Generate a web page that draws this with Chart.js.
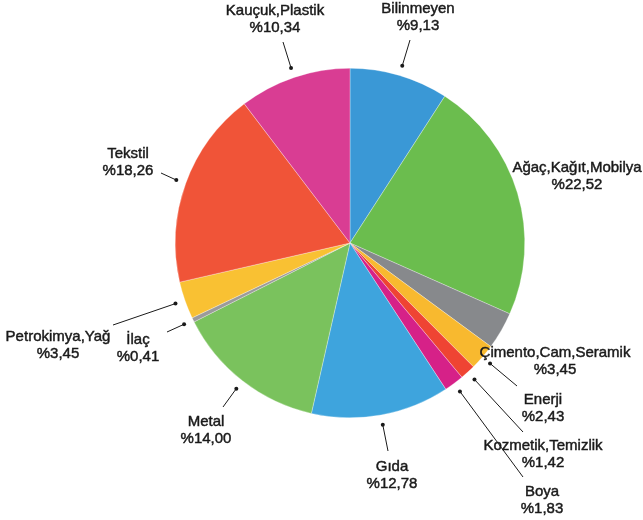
<!DOCTYPE html>
<html>
<head>
<meta charset="utf-8">
<script src="https://cdn.jsdelivr.net/npm/chart.js@4"></script>
<style>
  html, body { margin: 0; padding: 0; background: #fff; }
  #wrap { width: 643px; height: 520px; }
</style>
</head>
<body>
<div id="wrap"><canvas id="pie"></canvas></div>
<script>
// veriler
const categories = ['Bilinmeyen', 'Ağaç,Kağıt,Mobilya', 'Çimento,Cam,Seramik', 'Enerji', 'Kozmetik,Temizlik',
    'Boya', 'Gıda', 'Metal', 'İlaç', 'Petrokimya,Yağ', 'Tekstil', 'Kauçuk,Plastik'];
const shares = [9.13, 22.52, 3.45, 2.43, 1.42, 1.83, 12.78, 14.00, 0.41, 3.45, 18.26, 10.34];
const colors = ['#3a98d6', '#6bbd4e', '#87898c', '#f8b92f', '#ef4433', '#d62188',
    '#3ea4dd', '#7ac25d', '#9b9b9b', '#f9c133', '#f05438', '#d93d93'];

// etiket yerleşimi: metin merkezi ve çizgi ucu (null = çizgi yok)
const labelAt = [
    [418, 9], [577, 168], [555, 353], [543, 400], [543, 446], [542, 492],
    [392, 467], [206, 422], [138, 340], [58, 337], [128, 154], [275, 11]
];
const leaderEnd = [
    [410, 40], null, null, [517, 386], [523, 432], [523, 477],
    [388, 451], [223, 407], [167, 332], [113, 325], [161, 173], [283, 42]
];

const fmt = v => '%' + v.toFixed(2).replace('.', ',');

// dış etiketler ve çizgiler
const outsideLabels = {
    id: 'outsideLabels',
    afterDraw(chart) {
        const ctx = chart.ctx;
        const arcs = chart.getDatasetMeta(0).data;
        ctx.save();
        arcs.forEach((arc, i) => {
            const end = leaderEnd[i];
            if (end) {
                const mid = (arc.startAngle + arc.endAngle) / 2;
                const r = arc.outerRadius + 10;
                const sx = arc.x + Math.cos(mid) * r;
                const sy = arc.y + Math.sin(mid) * r;
                ctx.strokeStyle = '#1a1a1a';
                ctx.lineWidth = 1;
                ctx.beginPath();
                ctx.moveTo(sx, sy);
                ctx.lineTo(end[0], end[1]);
                ctx.stroke();
                ctx.fillStyle = '#1a1a1a';
                ctx.beginPath();
                ctx.arc(sx, sy, 2, 0, Math.PI * 2);
                ctx.fill();
            }
            const [tx, ty] = labelAt[i];
            ctx.font = '15px "Liberation Sans", Arial, sans-serif';
            ctx.fillStyle = '#1a1a1a';
            ctx.strokeStyle = '#1a1a1a';
            ctx.lineWidth = 0.45;
            ctx.textAlign = 'center';
            ctx.textBaseline = 'middle';
            // yazıyı biraz kalınlaştır
            ctx.fillText(categories[i], tx, ty);
            ctx.strokeText(categories[i], tx, ty);
            ctx.fillText(fmt(shares[i]), tx, ty + 17);
            ctx.strokeText(fmt(shares[i]), tx, ty + 17);
        });
        ctx.restore();
    }
};

new Chart(document.getElementById('pie'), {
    type: 'pie',
    data: {
        labels: categories,
        datasets: [{
            data: shares,
            backgroundColor: colors,
            borderColor: 'rgba(255,255,255,0.6)',
            borderWidth: 0.5
        }]
    },
    options: {
        responsive: true,
        maintainAspectRatio: false,
        animation: false,
        layout: { padding: { left: 175, right: 118, top: 68, bottom: 102 } },
        plugins: {
            legend: { display: false },
            tooltip: { enabled: false }
        }
    },
    plugins: [outsideLabels]
});
</script>
</body>
</html>
